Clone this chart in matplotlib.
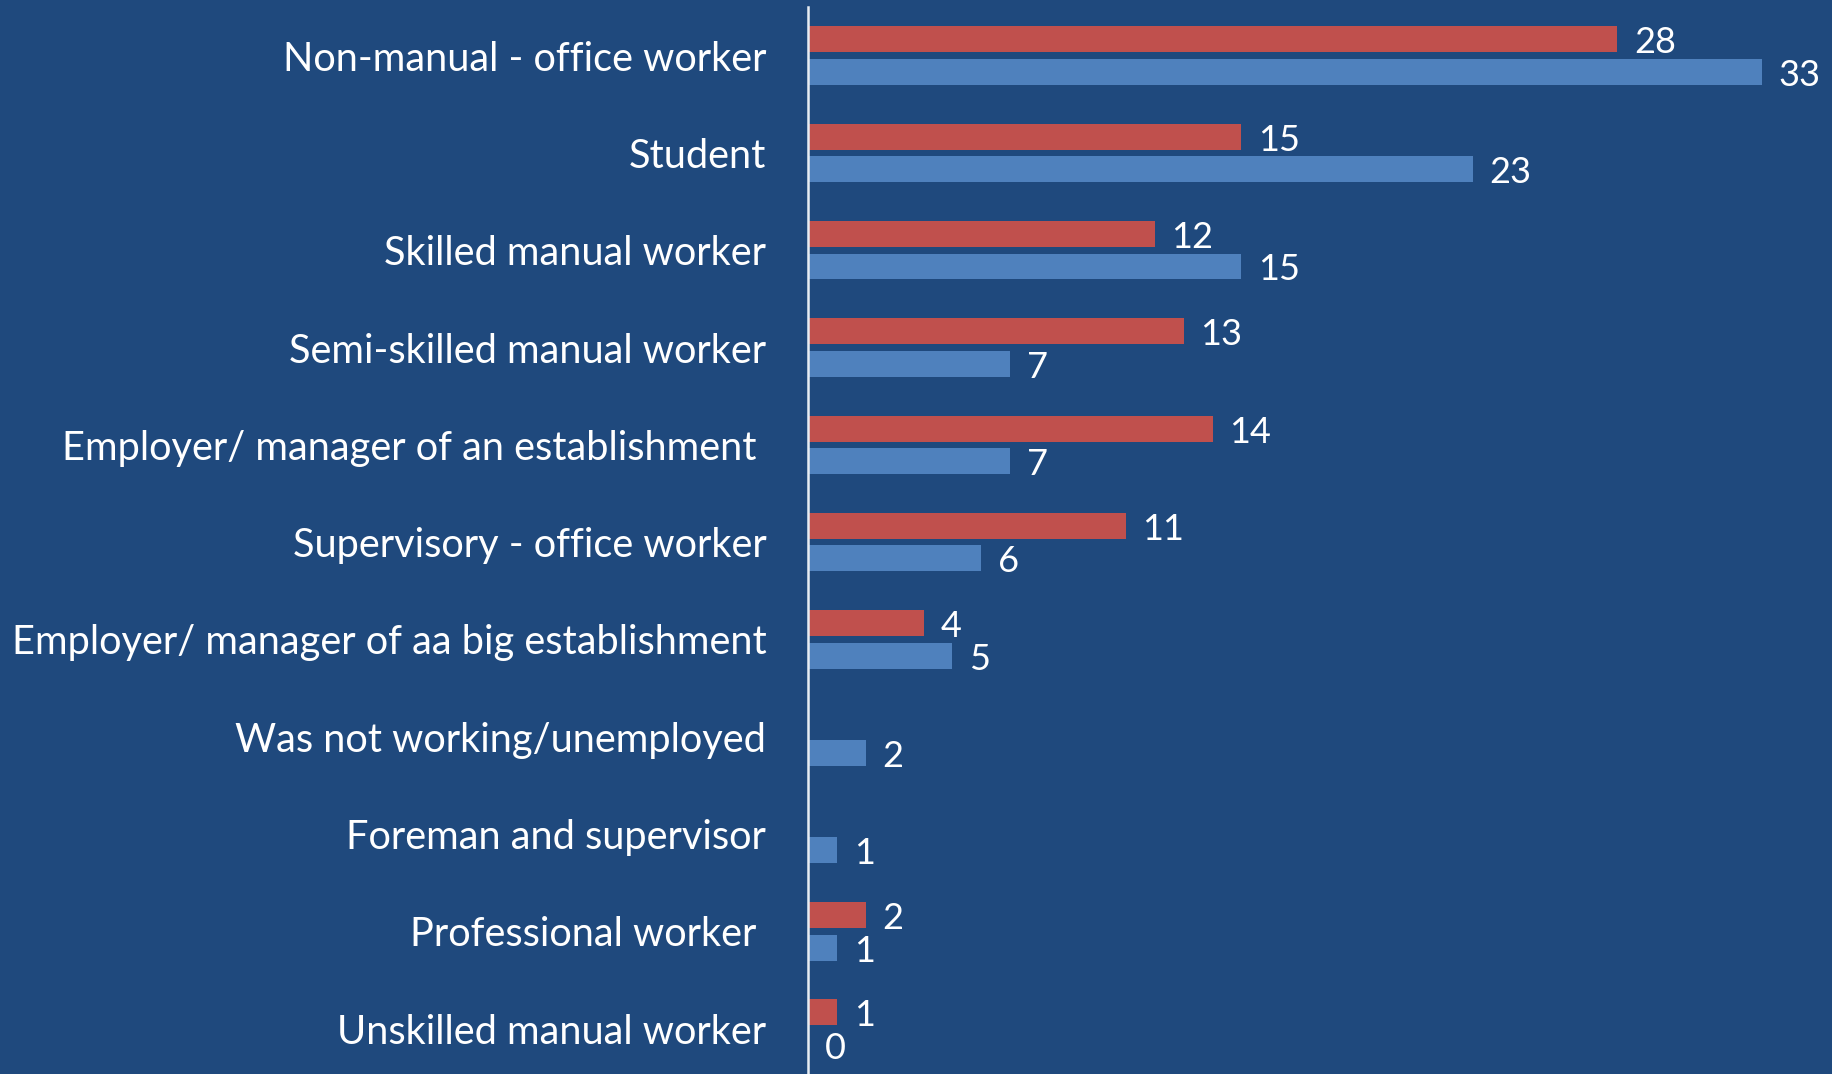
import numpy as np
import matplotlib.pyplot as plt

categories = [
    "Non-manual - office worker",
    "Student",
    "Skilled manual worker",
    "Semi-skilled manual worker",
    "Employer/ manager of an establishment ",
    "Supervisory - office worker",
    "Employer/ manager of aa big establishment",
    "Was not working/unemployed",
    "Foreman and supervisor",
    "Professional worker ",
    "Unskilled manual worker",
]
red_values = [28, 15, 12, 13, 14, 11, 4, np.nan, np.nan, 2, 1]
blue_values = [33, 23, 15, 7, 7, 6, 5, 2, 1, 1, 0]

bg = "#1F497D"
red = "#C0504D"
blue = "#4F81BD"
plt.rcParams['font.family'] = ['Lato', 'DejaVu Sans']

fig = plt.figure(figsize=(18.33, 10.74), dpi=100, facecolor=bg)
ax = fig.add_axes([808 / 1833, 0, 1 - 808 / 1833, 1 - 7 / 1074])
ax.set_facecolor(bg)

y = np.arange(len(categories))
off = 0.167
h = 0.267
ax.barh(y - off, red_values, height=h, color=red)
ax.barh(y + off, blue_values, height=h, color=blue)

# number labels, nudged a bit down so digits sit centred on the bars
for yi, v in zip(y, red_values):
    if not np.isnan(v):
        ax.annotate(f"{v:g}", (v, yi - off), xytext=(12, -2.5), textcoords="offset points",
                    va="center", ha="left", color="white", fontsize=26)
for yi, v in zip(y, blue_values):
    ax.annotate(f"{v:g}", (v, yi + off), xytext=(12, -2.5), textcoords="offset points",
                va="center", ha="left", color="white", fontsize=26)

ax.set_xlim(0, 35.47)
ax.set_ylim(10.466, -0.5)
ax.set_yticks(y)
ax.set_yticklabels(categories, color="white", fontsize=28.6)
ax.tick_params(axis="y", length=0, pad=30)
ax.set_xticks([])
for s in ["top", "right", "bottom"]:
    ax.spines[s].set_visible(False)
ax.spines["left"].set_color("#E8EDF3")
ax.spines["left"].set_linewidth(1.8)

fig.savefig("out.png", dpi=100, facecolor=bg)
